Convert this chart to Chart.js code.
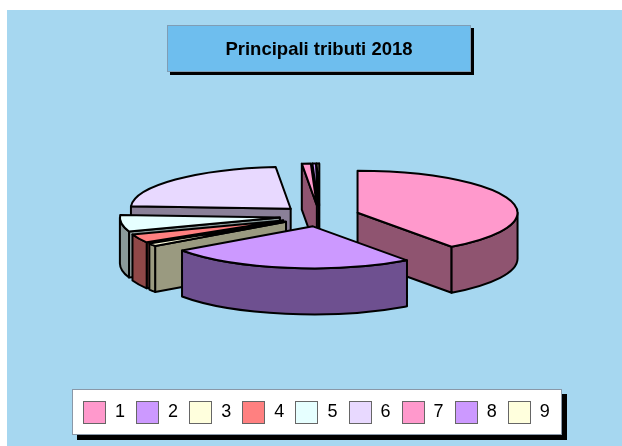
<!DOCTYPE html>
<html>
<head>
<meta charset="utf-8">
<script src="https://cdn.jsdelivr.net/npm/chart.js@4"></script>
<style>
    html, body { margin: 0; padding: 0; background: #fff; }
    #page { position: relative; width: 622px; height: 446px; overflow: hidden; font-family: "Liberation Sans", Arial, sans-serif; }
    #bg { position: absolute; left: 7px; top: 10px; right: 0; bottom: 0; background: #a6d7f0; }
    #chart { position: absolute; left: 0; top: 0; }
    #title { position: absolute; left: 167px; top: 25px; width: 302px; height: 45px; line-height: 45px; text-align: center; background: #6ebeee; border: 1px solid #7f9db5; box-shadow: 3px 3px 0 #000; font-size: 18.5px; font-weight: bold; color: #000; }
    #legend { position: absolute; left: 72px; top: 389px; width: 488px; height: 44px; background: #fff; border: 1px solid #8a98a8; box-shadow: 5px 5px 0 #000; }
    .sw { position: absolute; top: 11px; width: 21px; height: 21px; border: 1px solid #666; }
    .lb { position: absolute; top: 11px; width: 20px; text-align: center; font-size: 18px; line-height: 21px; color: #000; }
</style>
</head>
<body>
<div id="page">
    <div id="bg"></div>
    <canvas id="chart" width="622" height="446"></canvas>
    <div id="title">Principali tributi 2018</div>
    <div id="legend"></div>
</div>
<script>
    const categories = ['1', '2', '3', '4', '5', '6', '7', '8', '9'];
    const values = [40, 25.25, 1.05, 3.3, 6.3, 22.6, 0.9, 0.35, 0.25];
    const colors = ['#ff99cc', '#cc99ff', '#ffffdd', '#ff8080', '#e6ffff', '#e8d9ff', '#ff99cc', '#cc99ff', '#ffffdd'];
    const sideColors = ['#8f5470', '#6e5090', '#9a9a80', '#904848', '#8a9a9a', '#8a8098', '#8f5470', '#6e5090', '#9a9a80'];

    const TILT = 0.2625;
    const DEPTH = 46;
    const EXPLODE = 40;

    // draws the pie slices as extruded, tilted wedges, far ones first
    const pie3d = {
        id: 'pie3d',
        beforeDatasetDraw(chart, args) {
            const ctx = chart.ctx;
            const arcs = chart.getDatasetMeta(args.index).data.map((arc, i) => ({ arc, i }));
            arcs.sort((a, b) => depthOf(a.arc) - depthOf(b.arc));
            ctx.save();
            ctx.lineWidth = 2;
            ctx.lineJoin = 'round';
            ctx.strokeStyle = '#000';
            arcs.forEach(({ arc, i }) => drawSlice(ctx, arc, i));
            ctx.restore();
            return false;
        }
    };

    function depthOf(arc) {
        return Math.sin((arc.startAngle + arc.endAngle) / 2);
    }

    function drawSlice(ctx, arc, i) {
        const mid = (arc.startAngle + arc.endAngle) / 2;
        const r = arc.outerRadius;
        const off = arc.options.offset;
        const ax = arc.x + Math.cos(mid) * off;
        const ay = arc.y + Math.sin(mid) * off * TILT;
        const a0 = arc.startAngle;
        const a1 = arc.endAngle;
        const rim = a => [ax + Math.cos(a) * r, ay + Math.sin(a) * r * TILT];

        ctx.fillStyle = sideColors[i];

        // radial faces, only when they look towards the viewer
        [[a0, Math.sin(a0 - Math.PI / 2)], [a1, Math.sin(a1 + Math.PI / 2)]].forEach(([a, facing]) => {
            if (facing <= 0) return;
            const [x, y] = rim(a);
            ctx.beginPath();
            ctx.moveTo(ax, ay);
            ctx.lineTo(x, y);
            ctx.lineTo(x, y + DEPTH);
            ctx.lineTo(ax, ay + DEPTH);
            ctx.closePath();
            ctx.fill();
            ctx.stroke();
        });

        // outer wall, front half only
        const lo = Math.max(a0, 0);
        const hi = Math.min(a1, Math.PI);
        if (hi > lo) {
            ctx.beginPath();
            ctx.ellipse(ax, ay, r, r * TILT, 0, lo, hi);
            ctx.ellipse(ax, ay + DEPTH, r, r * TILT, 0, hi, lo, true);
            ctx.closePath();
            ctx.fill();
            ctx.stroke();
        }

        // top
        ctx.fillStyle = arc.options.backgroundColor;
        ctx.beginPath();
        ctx.moveTo(ax, ay);
        ctx.ellipse(ax, ay, r, r * TILT, 0, a0, a1);
        ctx.closePath();
        ctx.fill();
        ctx.stroke();
    }

    new Chart(document.getElementById('chart'), {
        type: 'pie',
        data: {
            labels: categories,
            datasets: [{
                data: values,
                backgroundColor: colors,
                offset: EXPLODE,
                borderWidth: 0
            }]
        },
        options: {
            responsive: false,
            animation: false,
            radius: 160,
            layout: { padding: { left: 17, bottom: 14 } },
            plugins: { legend: { display: false }, title: { display: false }, tooltip: { enabled: false } }
        },
        plugins: [pie3d]
    });

    const legend = document.getElementById('legend');
    categories.forEach((c, i) => {
        const sw = document.createElement('div');
        sw.className = 'sw';
        sw.style.left = (10 + i * 53.1) + 'px';
        sw.style.background = colors[i];
        legend.appendChild(sw);
        const lb = document.createElement('div');
        lb.className = 'lb';
        lb.style.left = (37 + i * 53.1) + 'px';
        lb.textContent = c;
        legend.appendChild(lb);
    });
</script>
</body>
</html>
